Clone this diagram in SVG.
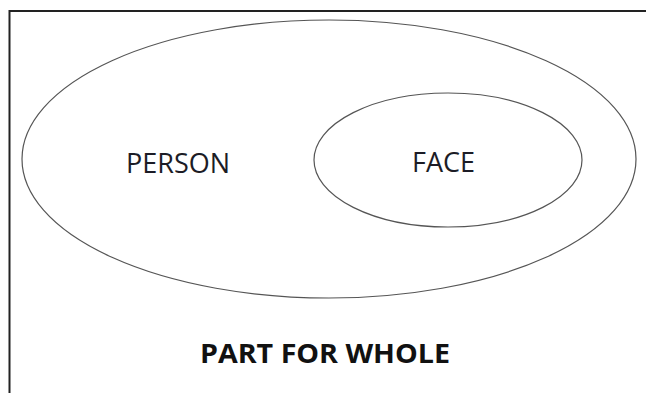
<svg xmlns="http://www.w3.org/2000/svg" width="646" height="393" viewBox="0 0 646 393">
<style>
.set{fill:none;stroke:#555;stroke-width:1.2}
.lbl{font-family:"Open Sans","Noto Sans",sans-serif;font-size:27px;fill:#1c1c26}
.ttl{font-family:"Open Sans","Noto Sans",sans-serif;font-size:27px;font-weight:bold;fill:#111}
</style>
<rect width="646" height="393" fill="#fff"/>
<path d="M9.5,393 V11 H646" fill="none" stroke="#222" stroke-width="2"/>
<g id="person">
<ellipse class="set" cx="329" cy="159" rx="307" ry="139"/>
<text class="lbl" x="126" y="173" textLength="104" lengthAdjust="spacingAndGlyphs">PERSON</text>
</g>
<g id="face">
<ellipse class="set" cx="448" cy="160" rx="134" ry="67"/>
<text class="lbl" x="412" y="172" textLength="63" lengthAdjust="spacingAndGlyphs">FACE</text>
</g>
<g id="connectors"></g>
<text class="ttl" x="200" y="363" textLength="250" lengthAdjust="spacingAndGlyphs">PART FOR WHOLE</text>
</svg>
